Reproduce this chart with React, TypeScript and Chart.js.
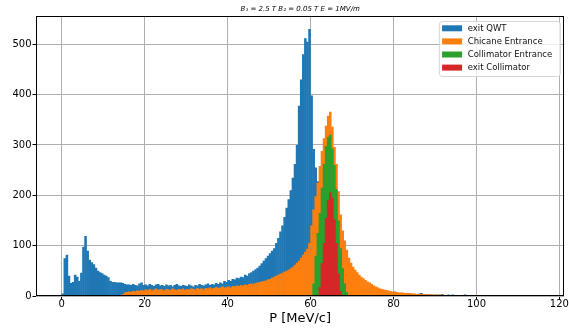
import React, { useEffect, useRef } from 'react';
import { Chart, registerables } from 'chart.js';

Chart.register(...registerables);

const FONT = "'DejaVu Sans', 'Liberation Sans', sans-serif";

// Histogram bin width (MeV/c)
const BIN_WIDTH = 0.5;

// exit QWT: bins from 0 MeV/c
const exitQWTStart = 0;
const exitQWT = [
  5, 75, 82, 40, 26, 28, 42, 38, 30, 46,
  98, 119, 90, 72, 67, 63, 56, 50, 47, 45,
  42, 40, 37, 30, 28, 28, 27, 27, 27, 26,
  24, 23, 23, 22, 24, 22, 21, 25, 27, 22,
  23, 21, 24, 22, 20, 23, 24, 21, 22, 20,
  23, 21, 22, 19, 22, 24, 21, 20, 22, 21,
  20, 23, 21, 19, 22, 21, 24, 22, 21, 23,
  25, 22, 24, 23, 26, 24, 27, 25, 30, 28,
  32, 30, 34, 33, 36, 35, 38, 37, 42, 40,
  45, 47, 50, 53, 56, 60, 65, 70, 75, 80,
  85, 90, 95, 105, 115, 128, 140, 157, 175, 192,
  210, 235, 262, 300, 378, 430, 480, 512, 505, 530,
  398, 292, 255, 228, 205, 180, 152, 128, 108, 92,
  78, 67, 58, 50, 44, 39, 34, 30, 27, 24,
  22, 20, 18, 17, 16, 15, 14, 13, 12, 12,
  11, 10, 10, 9, 9, 8, 8, 7, 8, 7,
  9, 6, 6, 5, 6, 5, 5, 4, 5, 4,
  4, 4, 5, 6, 4, 3, 3, 3, 3, 2,
  3, 2, 3, 4, 2, 2, 3, 2, 3, 2,
  2, 1, 2, 1, 3, 2, 1, 1, 1, 0,
];

// Chicane Entrance: bins from 14.5 MeV/c
const chicaneStart = 14.5;
const chicaneEntrance = [
  4,
  7, 8, 9, 8, 10, 9, 11, 10, 12, 11,
  13, 12, 14, 11, 13, 15, 12, 14, 13, 11,
  14, 13, 12, 15, 13, 12, 14, 13, 15, 12,
  14, 13, 15, 14, 13, 16, 14, 15, 13, 16,
  15, 17, 15, 16, 18, 16, 17, 19, 17, 18,
  19, 17, 20, 19, 21, 20, 22, 21, 23, 22,
  24, 25, 24, 26, 27, 28, 29, 30, 31, 33,
  34, 36, 38, 40, 42, 44, 46, 48, 50, 52,
  55, 58, 62, 66, 70, 76, 82, 88, 94, 105,
  140, 172, 198, 225, 258, 288, 313, 338, 358, 366,
  336, 296, 262, 208, 162, 130, 110, 92, 76, 66,
  58, 52, 47, 42, 38, 35, 32, 29, 27, 24,
  21, 19, 17, 15, 14, 13, 12, 11, 10, 9,
  8, 8, 7, 7, 7, 6, 6, 6, 5, 5,
  5, 4, 4, 4, 4, 4, 3, 3, 3, 3,
  3, 3, 2, 3, 2, 2, 2, 2, 2, 2,
  2, 1, 1, 1, 2, 1, 1, 1, 1, 0,
];

// Collimator Entrance: bins from 60.5 MeV/c
const collimatorStart = 60.5;
const collimatorEntrance = [25, 80, 125, 165, 215, 262, 298, 316, 320, 293, 260, 212, 150, 95, 55, 25, 8];

// exit Collimator: bins from 62 MeV/c
const exitCollimatorStart = 62;
const exitCollimator = [18, 65, 105, 155, 190, 206, 195, 152, 105, 45, 10];

const xTicks = [0, 20, 40, 60, 80, 100, 120];
const yTicks = [0, 100, 200, 300, 400, 500];
const X_MIN = -6.2;
const X_MAX = 121.2;
const Y_MAX = 556;

const seriesLabels = ['exit QWT', 'Chicane Entrance', 'Collimator Entrance', 'exit Collimator'];
const seriesColors = ['#1f77b4', '#ff7f0e', '#2ca02c', '#d62728'];
const titleText = 'B\u2081 = 2.5 T B\u2082 = 0.05 T E = 1MV/m';
const xLabel = 'P [MeV/c]';

// Histogram bars at bin centres
function toBins(start: number, counts: number[]) {
  return counts.map((c, i) => ({ x: start + (i + 0.5) * BIN_WIDTH, y: c }));
}

const frameAndLegend = {
  id: 'frameAndLegend',
  afterDraw(chart: any) {
    const { ctx, chartArea } = chart;
    ctx.save();
    ctx.strokeStyle = '#000';
    ctx.lineWidth = 1;
    ctx.strokeRect(
      Math.round(chartArea.left) + 0.5,
      Math.round(chartArea.top) + 0.5,
      Math.round(chartArea.right) - Math.round(chartArea.left) - 1,
      Math.round(chartArea.bottom) - Math.round(chartArea.top) - 1
    );
    const boxW = 121;
    const boxH = 55;
    const boxRight = chartArea.right - 4;
    const boxLeft = boxRight - boxW;
    const boxTop = chartArea.top + 5.5;
    const r = 3;
    ctx.beginPath();
    ctx.moveTo(boxLeft + r, boxTop);
    ctx.lineTo(boxRight - r, boxTop);
    ctx.arcTo(boxRight, boxTop, boxRight, boxTop + r, r);
    ctx.lineTo(boxRight, boxTop + boxH - r);
    ctx.arcTo(boxRight, boxTop + boxH, boxRight - r, boxTop + boxH, r);
    ctx.lineTo(boxLeft + r, boxTop + boxH);
    ctx.arcTo(boxLeft, boxTop + boxH, boxLeft, boxTop + boxH - r, r);
    ctx.lineTo(boxLeft, boxTop + r);
    ctx.arcTo(boxLeft, boxTop, boxLeft + r, boxTop, r);
    ctx.closePath();
    ctx.fillStyle = 'rgba(255,255,255,0.8)';
    ctx.fill();
    ctx.strokeStyle = 'rgba(204,204,204,0.8)';
    ctx.lineWidth = 1;
    ctx.stroke();
    ctx.font = `8.5px ${FONT}`;
    ctx.textBaseline = 'middle';
    ctx.textAlign = 'left';
    seriesLabels.forEach((label, i) => {
      const cy = boxTop + 6.8 + i * 13.1;
      ctx.fillStyle = seriesColors[i];
      ctx.fillRect(boxLeft + 2.7, cy - 3, 20, 6);
      ctx.fillStyle = '#111';
      ctx.fillText(label, boxLeft + 28.3, cy);
    });
    ctx.restore();
  },
};

export default function App() {
  const ref = useRef<HTMLCanvasElement>(null);

  useEffect(() => {
    document.body.style.margin = '0';
    const starts = [exitQWTStart, chicaneStart, collimatorStart, exitCollimatorStart];
    const counts = [exitQWT, chicaneEntrance, collimatorEntrance, exitCollimator];
    const datasets = seriesLabels.map((label, i) => ({
      label,
      data: toBins(starts[i], counts[i]),
      backgroundColor: seriesColors[i],
      borderWidth: 0,
      borderRadius: 0,
      barPercentage: 1,
      categoryPercentage: 1.25,
      inflateAmount: 0,
      grouped: false,
      order: 4 - i,
    }));

    const chart = new Chart(ref.current!, {
      type: 'bar',
      data: { datasets },
      options: {
        animation: false,
        responsive: false,
        events: [],
        layout: { padding: { left: 0, right: 4, top: 0, bottom: 0 } },
        plugins: {
          legend: { display: false },
          tooltip: { enabled: false },
          title: {
            display: true,
            text: titleText,
            fullSize: false,
            color: '#000',
            font: { family: FONT, size: 7, style: 'italic', weight: 'normal' },
            padding: { top: 4.8, bottom: 2.8 },
          },
        },
        scales: {
          x: {
            type: 'linear',
            min: X_MIN,
            max: X_MAX,
            offset: false,
            z: 1,
            afterBuildTicks: (scale: any) => {
              scale.ticks = xTicks.map((v) => ({ value: v }));
            },
            afterFit: (scale: any) => {
              scale.height = 35;
            },
            grid: {
              offset: false,
              color: '#b0b0b0',
              lineWidth: 1,
              tickColor: '#000',
              tickLength: 3.5,
              drawTicks: true,
            },
            border: { display: false },
            ticks: {
              color: '#000',
              font: { family: FONT, size: 10, lineHeight: 1 },
              padding: 0,
              maxRotation: 0,
              autoSkip: false,
              callback: (v: any) => String(v),
            },
            title: {
              display: true,
              text: xLabel,
              color: '#000',
              font: { family: FONT, size: 13 },
              padding: { top: 0, bottom: 5 },
            },
          },
          y: {
            type: 'linear',
            min: 0,
            max: Y_MAX,
            z: 1,
            afterBuildTicks: (scale: any) => {
              scale.ticks = yTicks.map((v) => ({ value: v }));
            },
            afterFit: (scale: any) => {
              scale.width = 36;
            },
            grid: {
              color: '#b0b0b0',
              lineWidth: 1,
              tickColor: '#000',
              tickLength: 3.5,
              drawTicks: true,
            },
            border: { display: false },
            ticks: {
              color: '#000',
              font: { family: FONT, size: 10 },
              padding: 1,
              autoSkip: false,
              callback: (v: any) => String(v),
            },
          },
        },
      },
      plugins: [frameAndLegend],
    } as any);

    return () => chart.destroy();
  }, []);

  return (
    <div style={{ width: 569, height: 331 }}>
      <canvas ref={ref} width={569} height={331} style={{ display: 'block' }} />
    </div>
  );
}
